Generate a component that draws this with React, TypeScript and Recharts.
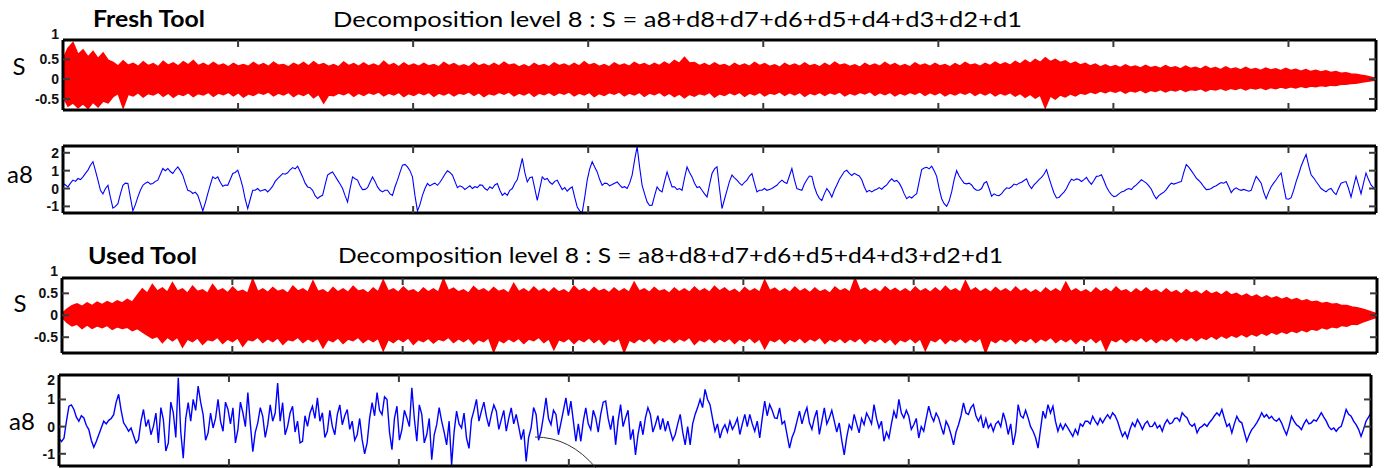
import React from 'react';
import { ComposedChart, Area, Line, XAxis, YAxis } from 'recharts';

// ---------- text ----------
const titleFresh = 'Fresh Tool';
const titleUsed = 'Used Tool';
const decompTitle = 'Decomposition level 8 : S = a8+d8+d7+d6+d5+d4+d3+d2+d1';
const sLabel = 'S';
const a8Label = 'a8';

// ---------- ticks ----------
const xTicks = [1, 2, 3, 4, 5, 6, 7];
const sTicks = [-0.5, 0, 0.5, 1];
const sTickLabels = ['-0.5', '0', '0.5', '1'];
const aTicks = [-1, 0, 1, 2];
const aTickLabels = ['-1', '0', '1', '2'];

// ---------- Fresh tool : S (upper / lower envelope of the signal) ----------
const freshSUpper = [
  0.5, 0.78, 0.92, 0.62, 0.74, 0.56, 0.7, 0.52, 0.66, 0.48,
  0.42, 0.33, 0.46, 0.35, 0.4, 0.32, 0.44, 0.34, 0.39, 0.31,
  0.45, 0.35, 0.41, 0.33, 0.44, 0.36, 0.47, 0.34, 0.4, 0.33,
  0.42, 0.34, 0.38, 0.31, 0.4, 0.33, 0.37, 0.32, 0.42, 0.34,
  0.39, 0.32, 0.43, 0.35, 0.37, 0.31, 0.4, 0.34, 0.42, 0.33,
  0.44, 0.35, 0.39, 0.32, 0.37, 0.31, 0.43, 0.34, 0.39, 0.32,
  0.41, 0.33, 0.38, 0.32, 0.45, 0.34, 0.39, 0.31, 0.41, 0.33,
  0.38, 0.32, 0.4, 0.33, 0.37, 0.31, 0.42, 0.34, 0.39, 0.32,
  0.36, 0.31, 0.41, 0.33, 0.38, 0.32, 0.4, 0.33, 0.43, 0.35,
  0.38, 0.31, 0.36, 0.3, 0.4, 0.33, 0.37, 0.31, 0.41, 0.34,
  0.38, 0.32, 0.4, 0.33, 0.44, 0.35, 0.39, 0.32, 0.37, 0.31,
  0.41, 0.34, 0.38, 0.32, 0.42, 0.35, 0.39, 0.33, 0.4, 0.34,
  0.43, 0.36, 0.47, 0.4, 0.55, 0.41, 0.42, 0.34, 0.39, 0.33,
  0.41, 0.34, 0.37, 0.31, 0.4, 0.33, 0.38, 0.32, 0.42, 0.34,
  0.39, 0.32, 0.36, 0.3, 0.4, 0.33, 0.38, 0.32, 0.41, 0.33,
  0.37, 0.31, 0.4, 0.33, 0.43, 0.35, 0.38, 0.32, 0.36, 0.3,
  0.4, 0.33, 0.38, 0.32, 0.42, 0.34, 0.39, 0.32, 0.37, 0.31,
  0.41, 0.34, 0.38, 0.32, 0.4, 0.33, 0.37, 0.31, 0.39, 0.33,
  0.42, 0.35, 0.38, 0.32, 0.4, 0.34, 0.43, 0.36, 0.41, 0.35,
  0.45, 0.38, 0.48, 0.4, 0.5, 0.42, 0.54, 0.44, 0.5, 0.42,
  0.46, 0.38, 0.43, 0.36, 0.4, 0.33, 0.38, 0.31, 0.36, 0.3,
  0.34, 0.29, 0.36, 0.3, 0.33, 0.28, 0.35, 0.29, 0.32, 0.27,
  0.34, 0.28, 0.31, 0.26, 0.33, 0.27, 0.3, 0.25, 0.32, 0.26,
  0.29, 0.24, 0.31, 0.25, 0.28, 0.23, 0.3, 0.24, 0.27, 0.22,
  0.28, 0.23, 0.26, 0.21, 0.27, 0.22, 0.25, 0.2, 0.24, 0.19,
  0.22, 0.18, 0.21, 0.17, 0.19, 0.15, 0.16, 0.13, 0.12, 0.1,
  0.08, 0.05, 0.02,
];
const freshSLower = [
  -0.45, -0.68, -0.6, -0.72, -0.62, -0.74, -0.58, -0.7, -0.55, -0.6,
  -0.44, -0.36, -0.72, -0.38, -0.42, -0.34, -0.45, -0.36, -0.4, -0.33,
  -0.43, -0.35, -0.46, -0.37, -0.41, -0.34, -0.44, -0.36, -0.4, -0.33,
  -0.43, -0.35, -0.39, -0.33, -0.42, -0.34, -0.45, -0.37, -0.41, -0.34,
  -0.38, -0.32, -0.42, -0.35, -0.4, -0.33, -0.44, -0.36, -0.41, -0.34,
  -0.47, -0.38, -0.6, -0.4, -0.42, -0.35, -0.39, -0.33, -0.43, -0.35,
  -0.41, -0.34, -0.38, -0.32, -0.42, -0.35, -0.4, -0.33, -0.44, -0.36,
  -0.41, -0.34, -0.39, -0.33, -0.43, -0.35, -0.4, -0.34, -0.42, -0.35,
  -0.38, -0.32, -0.41, -0.34, -0.44, -0.36, -0.4, -0.33, -0.38, -0.32,
  -0.42, -0.35, -0.4, -0.33, -0.43, -0.35, -0.39, -0.33, -0.41, -0.34,
  -0.38, -0.32, -0.42, -0.35, -0.4, -0.33, -0.44, -0.36, -0.41, -0.34,
  -0.38, -0.32, -0.42, -0.35, -0.4, -0.33, -0.43, -0.35, -0.39, -0.33,
  -0.42, -0.35, -0.44, -0.37, -0.47, -0.38, -0.43, -0.36, -0.4, -0.33,
  -0.45, -0.37, -0.41, -0.34, -0.39, -0.33, -0.43, -0.35, -0.4, -0.33,
  -0.42, -0.35, -0.38, -0.32, -0.41, -0.34, -0.4, -0.33, -0.43, -0.35,
  -0.39, -0.33, -0.41, -0.34, -0.38, -0.32, -0.42, -0.35, -0.4, -0.33,
  -0.37, -0.31, -0.41, -0.34, -0.39, -0.33, -0.42, -0.35, -0.4, -0.33,
  -0.38, -0.32, -0.41, -0.34, -0.39, -0.33, -0.42, -0.35, -0.4, -0.33,
  -0.38, -0.32, -0.41, -0.34, -0.4, -0.33, -0.42, -0.35, -0.4, -0.34,
  -0.43, -0.36, -0.46, -0.38, -0.48, -0.4, -0.72, -0.42, -0.5, -0.4,
  -0.45, -0.37, -0.42, -0.35, -0.38, -0.32, -0.36, -0.3, -0.34, -0.29,
  -0.33, -0.28, -0.35, -0.29, -0.32, -0.27, -0.34, -0.28, -0.31, -0.26,
  -0.32, -0.27, -0.3, -0.25, -0.31, -0.26, -0.28, -0.24, -0.3, -0.25,
  -0.27, -0.23, -0.28, -0.23, -0.26, -0.22, -0.27, -0.22, -0.25, -0.21,
  -0.26, -0.21, -0.24, -0.2, -0.23, -0.19, -0.22, -0.18, -0.21, -0.17,
  -0.19, -0.16, -0.18, -0.15, -0.16, -0.13, -0.13, -0.11, -0.1, -0.08,
  -0.06, -0.04, -0.02,
];

// ---------- Fresh tool : a8 ----------
const freshA8 = [
  0.28, 0.2, 0.09, 0.3, 0.47, 0.4, 0.56, 0.5, 0.65, 0.85, 1.03, 1.3, 1.5, 1.0, 0.47, -0.1, -0.3, 0.0, 0.18, -0.5,
  -1.1, -1.0, -0.85, -0.3, 0.18, 0.3, 0.28, -0.5, -1.25, -0.9, -0.47, -0.1, 0.18, 0.3, 0.37, 0.25, 0.28, 0.4, 0.47, 0.8,
  1.12, 1.0, 1.12, 0.95, 0.84, 1.05, 1.21, 1.0, 0.75, 0.3, -0.1, -0.15, -0.28, -0.2, -0.38, -0.8, -1.25, -0.8, -0.28, 0.2,
  0.65, 0.55, 0.65, 0.35, 0.13, 0.2, 0.18, 0.5, 0.84, 0.9, 1.03, 0.6, 0.09, -0.6, -1.12, -0.6, -0.1, -0.1, 0.0, -0.15,
  -0.1, -0.05, -0.19, -0.05, 0.13, 0.4, 0.56, 0.7, 0.84, 0.8, 0.88, 1.05, 1.17, 1.1, 1.25, 0.95, 0.65, 0.3, 0.09, 0.05,
  -0.1, -0.4, -0.56, -0.45, -0.38, 0.2, 0.75, 0.85, 0.93, 0.7, 0.47, 0.25, 0.0, -0.4, -0.75, 0.0, 0.65, 0.55, 0.47, 0.15,
  -0.06, -0.05, 0.05, 0.35, 0.65, 0.4, 0.09, -0.1, -0.19, -0.1, -0.1, -0.3, -0.38, 0.1, 0.47,
  0.9,
  1.31, 1.35, 1.21, 1.0, 0.65, -0.4, -1.25, -0.9, -0.38, 0.0, 0.28, 0.15, 0.24, 0.3, 0.18, 0.35, 0.56, 0.8, 0.99, 0.9,
  0.75, 0.4, 0.05, 0.15, 0.09, -0.05, 0.05, 0.15, 0.0, 0.1, 0.05, 0.2, 0.18, 0.0, -0.1, 0.1, 0.0, 0.2, 0.28, -0.1,
  -0.38, -0.25, -0.38, -0.1, 0.0, 0.3, 0.5, 1.1, 1.69, 0.9, 0.37, 0.6, 0.65, 0.0, -0.66, 0.0, 0.65, 0.5, 0.56, 0.35,
  0.24, 0.4, 0.47, 0.2, -0.06, 0.05, -0.15, 0.0, 0.09, -0.5, -1.03, -1.25, -1.35, -0.5, 0.47, 1.1, 1.5, 1.2, 0.93, 0.5,
  0.18, 0.3, 0.28, 0.15, 0.22, 0.3, 0.37, 0.2, 0.05, 0.1, 0.0, 0.3, 0.75, 1.6, 2.35, 1.2, 0.18, -0.3, -0.75, -0.95,
  -0.93, -0.4, 0.09, -0.1, -0.19, 0.4, 0.93, 0.5, 0.09, 0.1, -0.06, 0.0, -0.1, 0.6, 1.21, 0.9, 0.65, 0.3, 0.05, 0.1,
  -0.1, -0.3, -0.47, 0.2, 0.84, 1.1, 1.21, 0.0, -1.12, -0.6, -0.1, 0.4, 0.75, 0.6, 0.47, 0.3, 0.18, 0.35, 0.47, 0.7,
  0.84, 0.3, -0.19, -0.1, -0.1, 0.0, -0.1, -0.05, 0.0, 0.1, 0.18, 0.35, 0.47, 0.35, 0.28, 0.7, 1.12, 0.5, 0.0,
  -0.05,
  -0.1, 0.25, 0.49, 0.7, 0.68, 0.1, -0.29, -0.55, -0.67, -0.3, 0.0, -0.2, -0.48, -0.1, 0.2, 0.5, 0.73, 0.95, 1.02, 0.85,
  0.73, 0.85, 0.77, 0.7, 0.49, 0.1, -0.19, -0.1, -0.19, -0.1, -0.04, 0.05, -0.04, 0.1, 0.2, 0.4, 0.54, 0.4, 0.45, 0.3,
  0.04, -0.3, -0.57, -0.45, -0.53, -0.4, -0.29, 0.4, 1.06, 1.15, 1.19, 1.1, 1.25, 1.0, 0.68, 0.0, -0.57, -0.85, -1.0, -0.7,
  -0.19, 0.5, 1.0, 0.7, 0.49, 0.3, 0.26, 0.3, 0.2, 0.0, -0.1, -0.1, 0.0, 0.3, 0.39, 0.0, -0.43, -0.3, -0.38, -0.4,
  -0.29, -0.1, 0.04, 0.0, 0.1, 0.25, 0.2, 0.3, 0.35, 0.45, 0.54, 0.2, 0.0, 0.2, 0.35, 0.5, 0.62, 0.8, 1.06, 0.6,
  0.16, -0.25, -0.53, -0.5, -0.34, -0.2, 0.0, 0.3, 0.52, 0.45, 0.54, 0.5, 0.39, 0.5, 0.62, 0.4, 0.24, 0.45, 0.68, 0.7,
  0.77, 0.45, 0.1, -0.15, -0.34, -0.45, -0.42, -0.3, -0.19, -0.15, -0.06, 0.0, -0.06, 0.1, 0.2, 0.35, 0.49, 0.4, 0.3, 0.15,
  -0.04, -0.35, -0.57, -0.4, -0.29, -0.2, -0.06, 0.15, 0.3, 0.25, 0.3, 0.35, 0.39, 0.9, 1.34, 1.2, 1.0, 0.8, 0.58, 0.45,
  0.3, 0.1, -0.06, -0.05, 0.0, 0.1, 0.16, 0.25, 0.33, 0.3, 0.39, 0.1, -0.23, -0.05, 0.04, -0.05, -0.1, -0.05, -0.1, -0.15,
  -0.1, 0.3, 0.68, 0.5, 0.3, -0.2, -0.57, -0.2, 0.1, 0.3, 0.49, 0.7, 0.87, 0.1, -0.57, -0.6, -0.51, -0.1, 0.39, 0.8,
  1.25, 1.6, 1.91, 1.3, 0.77, 0.6, 0.39, 0.2, 0.0, -0.1, -0.19, -0.05, 0.0, -0.2, -0.34, 0.0, 0.3, 0.35, 0.39, 0.0,
  -0.48, 0.1, 0.68, 0.2, -0.29, 0.3, 0.87, 0.5, 0.2, 0.05, -0.1,
];

// ---------- Used tool : S (upper / lower envelope of the signal) ----------
const usedSUpper = [
  0.04, 0.14, 0.22, 0.26, 0.2, 0.28, 0.22, 0.3, 0.24, 0.31,
  0.26, 0.33, 0.28, 0.36, 0.3, 0.45, 0.6, 0.5, 0.7, 0.55,
  0.62, 0.52, 0.74, 0.55, 0.6, 0.5, 0.66, 0.54, 0.58, 0.5,
  0.7, 0.55, 0.6, 0.51, 0.64, 0.53, 0.57, 0.5, 0.82, 0.54,
  0.6, 0.52, 0.63, 0.54, 0.58, 0.5, 0.66, 0.55, 0.6, 0.52,
  0.78, 0.54, 0.58, 0.5, 0.63, 0.53, 0.6, 0.52, 0.66, 0.55,
  0.58, 0.5, 0.62, 0.53, 0.8, 0.55, 0.6, 0.52, 0.64, 0.54,
  0.58, 0.5, 0.62, 0.53, 0.6, 0.52, 0.83, 0.56, 0.62, 0.53,
  0.58, 0.5, 0.65, 0.55, 0.6, 0.52, 0.63, 0.54, 0.58, 0.5,
  0.72, 0.54, 0.6, 0.52, 0.64, 0.54, 0.6, 0.51, 0.62, 0.53,
  0.58, 0.5, 0.66, 0.55, 0.6, 0.52, 0.63, 0.54, 0.59, 0.51,
  0.62, 0.53, 0.6, 0.52, 0.75, 0.55, 0.6, 0.52, 0.63, 0.54,
  0.58, 0.5, 0.62, 0.53, 0.6, 0.52, 0.64, 0.54, 0.6, 0.52,
  0.66, 0.55, 0.62, 0.53, 0.59, 0.5, 0.63, 0.54, 0.6, 0.52,
  0.8, 0.56, 0.62, 0.53, 0.6, 0.52, 0.64, 0.54, 0.6, 0.51,
  0.62, 0.53, 0.58, 0.5, 0.64, 0.55, 0.6, 0.52, 0.84, 0.56,
  0.62, 0.53, 0.6, 0.52, 0.65, 0.55, 0.61, 0.53, 0.6, 0.52,
  0.64, 0.54, 0.6, 0.52, 0.62, 0.53, 0.66, 0.55, 0.6, 0.52,
  0.78, 0.55, 0.62, 0.53, 0.6, 0.52, 0.63, 0.54, 0.6, 0.52,
  0.64, 0.54, 0.6, 0.51, 0.58, 0.5, 0.62, 0.53, 0.6, 0.52,
  0.75, 0.54, 0.6, 0.52, 0.58, 0.5, 0.62, 0.53, 0.6, 0.52,
  0.64, 0.54, 0.58, 0.5, 0.6, 0.52, 0.62, 0.53, 0.58, 0.5,
  0.6, 0.51, 0.56, 0.48, 0.58, 0.5, 0.55, 0.47, 0.56, 0.48,
  0.53, 0.46, 0.54, 0.46, 0.5, 0.43, 0.48, 0.41, 0.46, 0.39,
  0.44, 0.38, 0.42, 0.36, 0.4, 0.34, 0.38, 0.32, 0.35, 0.3,
  0.32, 0.27, 0.29, 0.25, 0.26, 0.22, 0.22, 0.19, 0.17, 0.14,
  0.11, 0.07, 0.03,
];
const usedSLower = [
  -0.04, -0.16, -0.24, -0.2, -0.3, -0.22, -0.3, -0.24, -0.28, -0.23,
  -0.32, -0.26, -0.3, -0.27, -0.35, -0.3, -0.38, -0.45, -0.52, -0.48,
  -0.62, -0.5, -0.58, -0.5, -0.72, -0.54, -0.6, -0.51, -0.66, -0.55,
  -0.58, -0.5, -0.64, -0.54, -0.6, -0.51, -0.7, -0.55, -0.58, -0.5,
  -0.62, -0.53, -0.6, -0.51, -0.66, -0.55, -0.58, -0.5, -0.62, -0.53,
  -0.6, -0.52, -0.74, -0.55, -0.6, -0.51, -0.64, -0.54, -0.58, -0.5,
  -0.62, -0.53, -0.6, -0.52, -0.8, -0.55, -0.62, -0.53, -0.6, -0.51,
  -0.66, -0.55, -0.6, -0.52, -0.63, -0.54, -0.58, -0.5, -0.62, -0.53,
  -0.6, -0.52, -0.65, -0.55, -0.6, -0.51, -0.83, -0.56, -0.62, -0.53,
  -0.6, -0.52, -0.64, -0.54, -0.58, -0.5, -0.62, -0.53, -0.78, -0.55,
  -0.6, -0.52, -0.64, -0.54, -0.6, -0.51, -0.62, -0.53, -0.66, -0.55,
  -0.6, -0.52, -0.84, -0.56, -0.62, -0.53, -0.6, -0.51, -0.64, -0.54,
  -0.6, -0.52, -0.62, -0.53, -0.58, -0.5, -0.66, -0.55, -0.6, -0.52,
  -0.62, -0.53, -0.6, -0.52, -0.64, -0.54, -0.6, -0.51, -0.62, -0.53,
  -0.76, -0.55, -0.6, -0.52, -0.64, -0.54, -0.6, -0.51, -0.62, -0.53,
  -0.58, -0.5, -0.64, -0.54, -0.6, -0.52, -0.62, -0.53, -0.6, -0.51,
  -0.64, -0.54, -0.6, -0.52, -0.62, -0.53, -0.66, -0.55, -0.6, -0.52,
  -0.62, -0.53, -0.8, -0.55, -0.6, -0.51, -0.64, -0.54, -0.6, -0.52,
  -0.62, -0.53, -0.6, -0.51, -0.85, -0.56, -0.62, -0.53, -0.6, -0.52,
  -0.64, -0.54, -0.6, -0.51, -0.62, -0.53, -0.58, -0.5, -0.62, -0.53,
  -0.6, -0.52, -0.64, -0.54, -0.6, -0.51, -0.62, -0.53, -0.8, -0.55,
  -0.6, -0.52, -0.62, -0.53, -0.58, -0.5, -0.6, -0.52, -0.62, -0.53,
  -0.58, -0.5, -0.6, -0.51, -0.57, -0.49, -0.58, -0.5, -0.55, -0.47,
  -0.54, -0.46, -0.52, -0.45, -0.5, -0.43, -0.49, -0.42, -0.47, -0.4,
  -0.45, -0.38, -0.43, -0.37, -0.41, -0.35, -0.39, -0.33, -0.37, -0.31,
  -0.34, -0.28, -0.31, -0.26, -0.28, -0.23, -0.25, -0.2, -0.21, -0.16,
  -0.12, -0.08, -0.04,
];

// ---------- Used tool : a8 ----------
const usedA8 = [
  -0.43, -0.55, -0.43, 0.2, 0.75, 0.8, 0.63, 0.35, 0.2, 0.4, 0.32, 0.05, -0.11, -0.5, -0.76, -0.55, -0.3, -0.05, 0.2, 0.1,
  0.23, 0.3, 0.44, 0.9, 1.19, 0.6, 0.14, 0.0, -0.17, -0.05, -0.33, -0.6, -0.48, 0.2, 0.63, 0.0, 0.26, -0.3, 0.01, 0.5,
  -0.6, 0.7, 0.26, -0.9, -0.6, 0.9, 0.51, -0.4, 1.8, -0.2, -1.16, 0.3, 0.88, 0.2, 1.0, 0.6, 1.49, 0.9, 0.44, -0.5,
  -0.23, 0.5, -0.05, 0.3, 1.0, 0.2, -0.17, 0.9, 0.63, 0.1, 0.69, -0.6, -0.11, 0.9, 0.51, 0.0, 1.25, 0.1, -0.92, -0.2,
  0.14, 0.7, 0.38, -0.4, 0.07, 0.8, 0.2, 0.5, 1.6, 0.2, 0.88, -0.3, 0.01, 0.5, 0.75, -0.2, 0.2, -0.6, -0.54, 0.4,
  0.01, 0.5, 0.75, 0.3, 1.06, 0.2, 0.51, -0.4, -0.17, 0.6, 0.01, -0.3, 0.44, 0.8, 0.07, 0.4, 0.63, -0.1, 0.2, -0.5,
  -0.3, 0.3, -0.48, -1.0, -0.6, 0.3, 0.88, 0.4, 1.25, 0.6, 0.44, 1.1, 1.0, -0.2, -0.85, 0.3, 0.75, -0.5, -0.11,
  0.6,
  0.32, 0.0, 1.43, 0.3, -0.54, 0.8, 0.45, -0.6, -0.29, 0.3, -1.22, -0.3, 0.07, 0.7, 0.2, -0.2, -0.67, 0.2, -1.41, -0.2,
  0.57, 0.1, -0.05, 0.5, -0.42, -0.8, 0.26, 0.6, 1.0, 0.2, 0.57, 0.9, 0.38, 0.0, 0.45, 0.8, 0.57, -0.1, 0.26, 0.6,
  -0.17, 0.3, 0.69, 0.1, 0.45, 0.0, -0.48, -0.1, -1.28, -0.4, -0.05, 0.7, 0.45, -0.5, -0.17, 0.4, 1.06, 0.3, 0.07, 0.6,
  0.45, -0.3, 0.14, 0.6, 1.06, 0.4, 0.94, 0.2, -0.54, 0.1, -0.54, 0.2, 0.69, 0.1, -0.11, 0.6, 0.32, -0.2, 0.45, 0.9,
  0.94, 0.3, -0.11, 0.4, -0.67, 0.2, 0.81, 0.0, 0.32, 0.6, -0.48, -0.1, -1.04, -0.3, 0.2, -0.3, 0.32, 0.7, 0.45, -0.2,
  0.07, 0.4, -0.11, 0.3, -0.17, 0.2, -0.17, -0.5, -0.29, 0.1, 0.45, -0.2, -0.67, 0.0, -0.67, 0.1, 0.45, 0.7, 1.0, 0.7,
  1.37, 1.0, 0.81, 0.3, -0.17, 0.1, -0.42, -0.1, 0.07, -0.2, 0.2, -0.1, 0.07, 0.3, -0.29, 0.1, 0.45, 0.0, 0.45, 0.1,
  -0.17, 0.2, -0.42, 0.3, 0.94, 0.4, 0.81, 0.6, 0.32, 0.3, 0.69, 0.1, 0.2,
  -0.3,
  -0.79, -0.4, -0.17, 0.2, 0.57, 0.1, 0.45, 0.7, 0.14, -0.1, 0.32, 0.6, -0.29, 0.2, 0.69, 0.1, 0.32, 0.6, 0.2, -0.2,
  0.14, -0.5, -1.04, -0.4, 0.07, -0.1, 0.45, 0.1, -0.23, 0.3, 0.07, 0.5, 0.32, 0.1, 0.81, 0.3, -0.05, 0.2, -0.54, -0.2,
  -0.42, 0.1, 0.57, 0.3, 1.0, 0.5, 0.32, 0.6, 0.38, -0.1, 0.07, 0.3, -0.42, 0.0, -0.17, 0.3, 0.75, 0.4, 0.2, 0.5,
  0.32, 0.0, -0.29, 0.2, 0.01, -0.3, -0.67, -0.2, 0.07, 0.4, 0.87, 0.5, 0.45, 0.7, 0.81, 0.4, 0.2, 0.4, -0.05, 0.3,
  -0.05, 0.1, -0.17, 0.1, 0.2, 0.0, 0.51, 0.2, -0.29, 0.1, -0.67, -0.2, 0.81, 0.4, 0.32, 0.6, 0.32, 0.0, -0.17, -0.4,
  -0.79, -0.1, 0.57, 0.3, 0.81, 0.5, 0.75, 0.2, -0.17, 0.1, -0.11, 0.1, -0.05, -0.2, -0.36, -0.1, -0.29, 0.1, 0.01, 0.2,
  0.2, 0.1, 0.38, 0.2, 0.07,
  0.3,
  0.14, 0.3, 0.44, 0.3, 0.51, 0.4, 0.2, -0.1, -0.36, -0.2, -0.42, -0.1, 0.14, 0.0, 0.26, 0.1, -0.11, 0.1, 0.2, 0.0,
  0.01, 0.15, -0.05, 0.05, -0.17, 0.1, 0.26, 0.1, 0.14, 0.3, 0.32, 0.2, 0.51, 0.4, 0.32, 0.1, 0.01, 0.1, -0.23, -0.05,
  0.01, 0.1, 0.01, 0.15, 0.26, 0.4, 0.51, 0.4, 0.63, 0.3, 0.01, 0.1, -0.23, 0.1, 0.38, 0.2, 0.14, -0.2, -0.54, -0.3,
  -0.11, 0.0, 0.14, 0.3, 0.51, 0.35, 0.44, 0.3, 0.38, 0.25, 0.2, 0.3, 0.14, -0.1, -0.3, 0.0, 0.38, 0.2, 0.07, 0.0,
  -0.11, 0.1, 0.26, 0.1, 0.14, 0.25, 0.2, 0.35, 0.51, 0.35, 0.2, 0.0, -0.11, -0.05, -0.17, -0.05, 0.01, 0.3, 0.63, 0.45,
  0.38, 0.2, 0.07, -0.1, -0.36, -0.1, 0.2, 0.35, 0.51,
];

// ---------- layout ----------
const W = 1386;
const H = 468;
const FONT = 'Lato, "Open Sans", "DejaVu Sans", sans-serif';
const TICK_FONT = '"Liberation Sans", Arial, sans-serif';
const TICK_COLOR = '#3a3a3a';

type Box = { left: number; right: number; top: number; bottom: number };

const buildLine = (values: number[], xMax: number) =>
  values.map((v, i) => ({ t: (i * xMax) / (values.length - 1), v }));

const buildBand = (upper: number[], lower: number[], xMax: number) =>
  upper.map((u, i) => ({ t: (i * xMax) / (upper.length - 1), band: [lower[i], u] }));

function makeYTick(
  ticks: number[],
  labels: string[],
  domain: [number, number],
  side: 'left' | 'right',
  topLabelShift = 0
) {
  return (props: any) => {
    const { x, y, payload } = props;
    const v = payload.value;
    const idx = ticks.indexOf(v);
    const inside = v > domain[0] && v < domain[1];
    if (side === 'right') {
      return inside ? (
        <line x1={x} x2={x - 7} y1={y} y2={y} stroke={TICK_COLOR} strokeWidth={2} />
      ) : (
        <g />
      );
    }
    const shift = idx === ticks.length - 1 ? topLabelShift : 0;
    return (
      <g>
        {inside && <line x1={x} x2={x + 7} y1={y} y2={y} stroke={TICK_COLOR} strokeWidth={2} />}
        <text
          x={x - 4}
          y={y + shift}
          dy={5}
          textAnchor="end"
          fontSize={14}
          fontWeight="bold"
          fontFamily={TICK_FONT}
          fill="#111"
        >
          {idx >= 0 ? labels[idx] : ''}
        </text>
      </g>
    );
  };
}

function makeXTick(dir: number) {
  return (props: any) => {
    const { x, y } = props;
    return <line x1={x} x2={x} y1={y} y2={y + dir * 7} stroke={TICK_COLOR} strokeWidth={2} />;
  };
}

type PanelProps = {
  box: Box;
  xMax: number;
  yDomain: [number, number];
  yTicks: number[];
  yLabels: string[];
  data: any[];
  kind: 'band' | 'line';
  topLabelShift?: number;
  lineWidth?: number;
};

function Panel({ box, xMax, yDomain, yTicks, yLabels, data, kind, topLabelShift = 0, lineWidth = 1.1 }: PanelProps) {
  const mt = 18;
  const mb = 6;
  const height = box.bottom - box.top + mt + mb;
  const axisLine = { stroke: '#000', strokeWidth: 3 };
  return (
    <div style={{ position: 'absolute', left: 0, top: box.top - mt }}>
      <ComposedChart
        width={W}
        height={height}
        data={data}
        margin={{ top: mt - 1, right: W - box.right - 1, bottom: mb - 1, left: 0 }}
      >
        <XAxis
          dataKey="t"
          type="number"
          domain={[0, xMax]}
          ticks={xTicks}
          interval={0}
          height={1}
          tickSize={0}
          tickMargin={0}
          tickLine={false}
          axisLine={axisLine}
          tick={makeXTick(-1)}
          allowDataOverflow
        />
        <XAxis
          xAxisId="top"
          orientation="top"
          dataKey="t"
          type="number"
          domain={[0, xMax]}
          ticks={xTicks}
          interval={0}
          height={1}
          tickSize={0}
          tickMargin={0}
          tickLine={false}
          axisLine={axisLine}
          tick={makeXTick(1)}
          allowDataOverflow
        />
        <YAxis
          type="number"
          domain={yDomain}
          ticks={yTicks}
          interval={0}
          width={box.left}
          tickSize={0}
          tickMargin={0}
          tickLine={false}
          axisLine={axisLine}
          tick={makeYTick(yTicks, yLabels, yDomain, 'left', topLabelShift)}
          allowDataOverflow
        />
        <YAxis
          yAxisId="r"
          orientation="right"
          type="number"
          domain={yDomain}
          ticks={yTicks}
          interval={0}
          width={1}
          tickSize={0}
          tickMargin={0}
          tickLine={false}
          axisLine={axisLine}
          tick={makeYTick(yTicks, yLabels, yDomain, 'right')}
          allowDataOverflow
        />
        {kind === 'band' ? (
          <Area
            type="linear"
            dataKey="band"
            stroke="#ff0000"
            strokeWidth={1.6}
            strokeLinejoin="miter"
            fill="#ff0000"
            fillOpacity={1}
            dot={false}
            activeDot={false}
            isAnimationActive={false}
          />
        ) : (
          <Line
            type="linear"
            dataKey="v"
            stroke="#0000ff"
            strokeWidth={lineWidth}
            dot={false}
            activeDot={false}
            isAnimationActive={false}
          />
        )}
      </ComposedChart>
    </div>
  );
}

const boxFreshS: Box = { left: 63, right: 1376, top: 40, bottom: 110 };
const boxFreshA: Box = { left: 63, right: 1376, top: 146, bottom: 213 };
const boxUsedS: Box = { left: 62, right: 1377, top: 278, bottom: 353 };
const boxUsedA: Box = { left: 59, right: 1371, top: 375, bottom: 466 };

const XMAX_FRESH = 7.5;
const XMAX_USED = 7.72;

export default function App() {
  const freshS = buildBand(freshSUpper, freshSLower, XMAX_FRESH);
  const freshA = buildLine(freshA8, XMAX_FRESH);
  const usedS = buildBand(usedSUpper, usedSLower, XMAX_USED);
  const usedA = buildLine(usedA8, XMAX_USED);

  return (
    <div style={{ position: 'absolute', left: 0, top: 0, width: W, height: H, background: '#fff', overflow: 'hidden' }}>
      <Panel box={boxFreshS} xMax={XMAX_FRESH} yDomain={[-0.78, 0.99]} yTicks={sTicks} yLabels={sTickLabels} data={freshS} kind="band" topLabelShift={-6} />
      <Panel box={boxFreshA} xMax={XMAX_FRESH} yDomain={[-1.37, 2.38]} yTicks={aTicks} yLabels={aTickLabels} data={freshA} kind="line" lineWidth={1.1} />
      <Panel box={boxUsedS} xMax={XMAX_USED} yDomain={[-0.86, 0.85]} yTicks={sTicks} yLabels={sTickLabels} data={usedS} kind="band" />
      <Panel box={boxUsedA} xMax={XMAX_USED} yDomain={[-1.45, 1.9]} yTicks={aTicks} yLabels={aTickLabels} data={usedA} kind="line" topLabelShift={8} lineWidth={1.4} />
      <svg width={W} height={H} style={{ position: 'absolute', left: 0, top: 0, pointerEvents: 'none' }}>
        <text x={93} y={27} fontFamily={FONT} fontWeight="bold" fontSize={22} textLength={112} lengthAdjust="spacingAndGlyphs" fill="#000">
          {titleFresh}
        </text>
        <text x={333} y={27} fontFamily={FONT} fontSize={22} textLength={689} lengthAdjust="spacingAndGlyphs" fill="#000">
          {decompTitle}
        </text>
        <text x={88} y={264} fontFamily={FONT} fontWeight="bold" fontSize={22} textLength={109} lengthAdjust="spacingAndGlyphs" fill="#000">
          {titleUsed}
        </text>
        <text x={338} y={263} fontFamily={FONT} fontSize={22} textLength={665} lengthAdjust="spacingAndGlyphs" fill="#000">
          {decompTitle}
        </text>
        <text x={19} y={75} textAnchor="middle" fontFamily={FONT} fontSize={24} fill="#000">{sLabel}</text>
        <text x={20} y={183} textAnchor="middle" fontFamily={FONT} fontSize={24} fill="#000">{a8Label}</text>
        <text x={20} y={312} textAnchor="middle" fontFamily={FONT} fontSize={24} fill="#000">{sLabel}</text>
        <text x={22} y={430} textAnchor="middle" fontFamily={FONT} fontSize={24} fill="#000">{a8Label}</text>
        <path d="M535 437 Q 570 437 596 468" stroke="#333" strokeWidth={1} fill="none" />
      </svg>
    </div>
  );
}
